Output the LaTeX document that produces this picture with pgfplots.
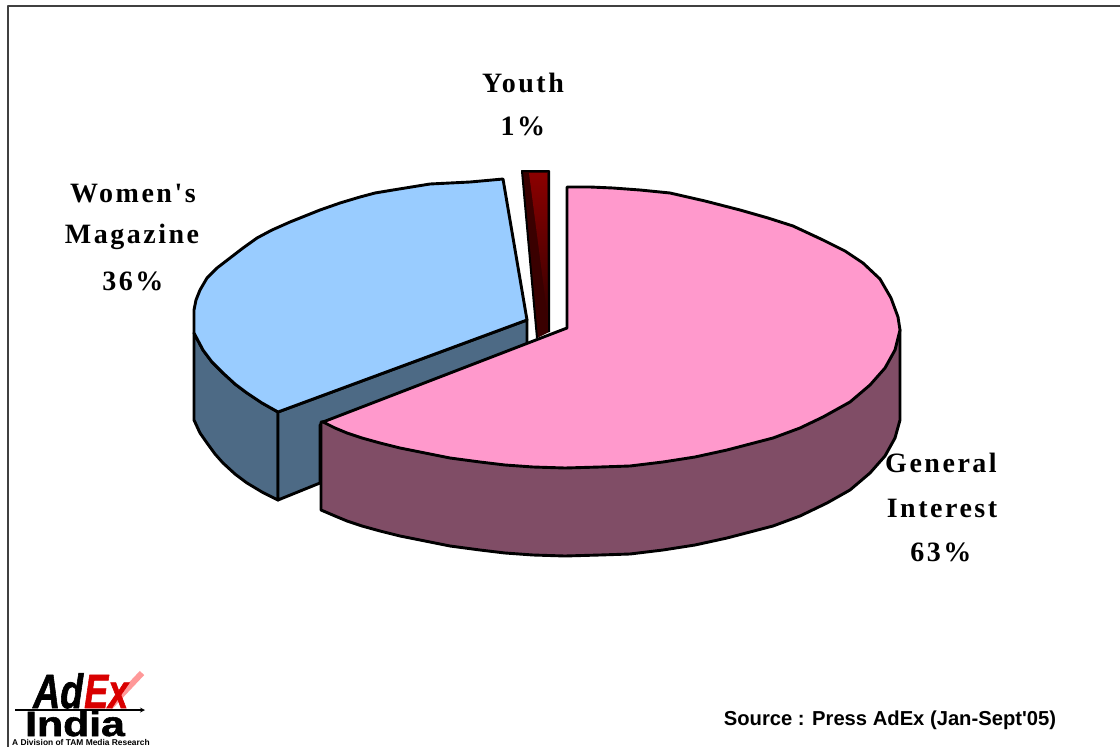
\documentclass[border=0pt]{standalone}
\usepackage{pgfplots}
\pgfplotsset{compat=1.18}
\usepackage{fontspec}
\setmainfont{Liberation Serif}
\newfontfamily\lab[LetterSpace=9]{Liberation Serif}
\newfontfamily\src{Liberation Sans}
\newfontfamily\logo[FakeBold=1.5]{Liberation Sans}
\definecolor{pinktop}{HTML}{FF99CC}
\definecolor{pinkside}{HTML}{804D66}
\definecolor{bluetop}{HTML}{99CCFF}
\definecolor{blueside}{HTML}{4D6A85}
\definecolor{redlight}{HTML}{8B0000}
\definecolor{reddark}{HTML}{3A0000}
\tikzset{lbl/.style={font=\lab\bfseries\fontsize{28}{28}\selectfont}}
\begin{document}
\begin{tikzpicture}
\begin{axis}[
  width=1120pt, height=747pt, scale only axis,
  xmin=0, xmax=1120, ymin=0, ymax=747,
  y dir=reverse, hide axis,
  every axis plot/.append style={line join=round, line width=2.9pt}
]
% page
\addplot[fill=white, draw=none] coordinates {(0,0) (1120,0) (1120,747) (0,747)} --cycle;
\addplot[black!75, line width=2pt] coordinates {(7.5,747) (7.5,5.5) (1120,5.5)};

% women's magazine side
\addplot[fill=blueside, draw=black] coordinates {
(194,333) (194,420) (200,433) (207,443) (215,454) (223,463) (235,474) (247,483) (262,492) (278,500)
(278,412) (262,403) (247,393) (235,384) (223,373) (212,362) (203,350)} --cycle;
\addplot[fill=blueside, draw=black] coordinates {
(278,412) (527,320) (527,345) (320,425) (320,483) (278,500)} --cycle;

% general interest side
\addplot[fill=pinkside, draw=black] coordinates {
(321,422) (321,510) (335,516) (347,521) (362,526) (380,531) (400,536) (420,540) (450,546) (480,550)
(505,553) (533,555) (565,556) (600,555) (630,554) (663,550) (695,545) (727,538) (750,532) (773,526)
(800,516) (827,503) (850,490) (870,473) (885,456) (895,438) (900,420) (900,330) (600,400)} --cycle;

% general interest top
\addplot[fill=pinktop, draw=black] coordinates {
(567,187) (590,187) (613,188) (640,190) (670,193) (705,201) (740,210) (768,218) (793,226) (823,240)
(845,251) (863,263) (880,279) (891,298) (898,317) (900,330) (895,350) (885,368) (870,385) (850,402)
(823,417) (800,428) (773,438) (750,444) (727,450) (695,457) (663,462) (630,466) (600,467) (565,468)
(533,467) (505,465) (480,462) (450,458) (420,452) (400,448) (380,443) (362,438) (347,433) (335,428)
(323,422) (567,328)} --cycle;

% women's magazine top
\addplot[fill=bluetop, draw=black] coordinates {
(503,179) (470,182) (430,184) (393,190) (375,193) (360,197) (340,203) (320,210) (305,216) (290,222)
(272,230) (257,238) (243,248) (230,258) (217,268) (207,278) (200,290) (196,300) (194,310) (194,333)
(203,350) (212,362) (223,373) (235,384) (247,393) (262,403) (278,412) (527,320)} --cycle;

% youth
\addplot[fill=reddark, draw=none] coordinates {(522,171) (549,171) (549,332) (537,338)} --cycle;
\addplot[draw=none, shade, top color=redlight, bottom color=reddark] coordinates {(529,173) (547,173) (547,312)} --cycle;
\addplot[black, line width=2pt] coordinates {(537,338) (522,171) (549,171) (549,332)};

% labels
\node[lbl] at (axis cs:523,83) {Youth};
\node[lbl] at (axis cs:523,126) {1\%};
\node[lbl] at (axis cs:133,194) {Women's};
\node[lbl] at (axis cs:132,237) {Magazine};
\node[lbl] at (axis cs:133,281) {36\%};
\node[lbl] at (axis cs:941,463) {General};
\node[lbl] at (axis cs:942,508) {Interest};
\node[lbl] at (axis cs:941,552) {63\%};
\node[font=\src\bfseries\fontsize{20.2}{20.2}\selectfont] at (axis cs:890,720) {Source : Press AdEx (Jan-Sept'05)};

% logo
\addplot[color=red!40, line width=6pt] coordinates {(110,707) (142,673)};
\node[anchor=base west, inner sep=0pt, font=\logo\bfseries\itshape\fontsize{48}{48}\selectfont] at (axis cs:33,708) {\scalebox{0.78}[1]{Ad}};
\node[anchor=base west, inner sep=0pt, text=red!85!black, font=\logo\bfseries\itshape\fontsize{48}{48}\selectfont] at (axis cs:84,708) {\scalebox{0.75}[1]{Ex}};
\node[anchor=base west, inner sep=0pt, font=\logo\bfseries\fontsize{35}{35}\selectfont] at (axis cs:25,736) {\scalebox{1.22}[1]{India}};
\addplot[black, line width=1.2pt, -stealth] coordinates {(15,710) (145,710)};
\node[anchor=base west, inner sep=0pt, font=\src\bfseries\fontsize{8.4}{8.4}\selectfont] at (axis cs:12,745.5) {A Division of TAM Media Research};
\end{axis}
\end{tikzpicture}
\end{document}
